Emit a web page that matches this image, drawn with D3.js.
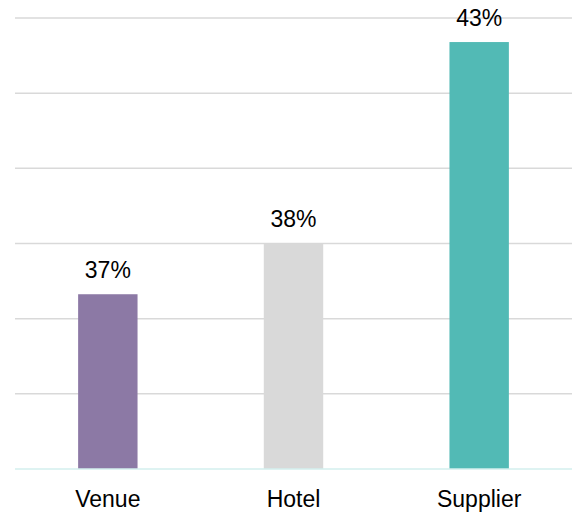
<!DOCTYPE html>
<html>
<head>
<meta charset="utf-8">
<script src="https://cdn.jsdelivr.net/npm/d3@7"></script>
<style>
  html, body { margin: 0; padding: 0; background: #fff; }
  svg { display: block; font-family: "Liberation Sans", Arial, sans-serif; }
</style>
</head>
<body>
<div id="chart"></div>
<script>
const categories = ["Venue", "Hotel", "Supplier"];
const values = [36.65, 37.99, 43.36];
const colors = ["#8c79a5", "#d9d9d9", "#52bab5"];
const yTicks = [32, 34, 36, 38, 40, 42, 44];

const width = 581, height = 514;
const margin = {top: 18, right: 9, bottom: 45, left: 15};
const innerWidth = width - margin.left - margin.right;
const innerHeight = height - margin.top - margin.bottom;

const svg = d3.select("#chart")
    .append("svg")
    .attr("width", width)
    .attr("height", height);

const chartGroup = svg.append("g")
    .attr("transform", `translate(${margin.left},${margin.top})`);

// Scales
const x = d3.scaleBand()
    .domain(categories)
    .range([0, 557])
    .paddingInner(0.68)
    .paddingOuter(0.34);

const y = d3.scaleLinear()
    .domain([32, 44])
    .range([innerHeight, 0]);

// Gridlines
chartGroup.selectAll("line.grid")
    .data(yTicks.slice(1))
    .join("line")
    .attr("class", "grid")
    .attr("x1", 0)
    .attr("x2", innerWidth)
    .attr("y1", d => y(d))
    .attr("y2", d => y(d))
    .attr("stroke", "#d9d9d9")
    .attr("stroke-width", 1.5);

// Bars
chartGroup.selectAll("rect.bar")
    .data(categories)
    .join("rect")
    .attr("class", "bar")
    .attr("x", d => x(d))
    .attr("y", (d, i) => y(values[i]))
    .attr("width", x.bandwidth())
    .attr("height", (d, i) => y(32) - y(values[i]))
    .attr("fill", (d, i) => colors[i]);

// Baseline
chartGroup.append("line")
    .attr("x1", 0)
    .attr("x2", innerWidth)
    .attr("y1", y(32))
    .attr("y2", y(32))
    .attr("stroke", "#d3efee")
    .attr("stroke-width", 1.5);

// Value labels
chartGroup.selectAll("text.value")
    .data(categories)
    .join("text")
    .attr("class", "value")
    .attr("x", d => x(d) + x.bandwidth() / 2)
    .attr("y", (d, i) => y(values[i]) - 16.5)
    .attr("text-anchor", "middle")
    .style("font-size", "23px")
    .style("fill", "#000")
    .text((d, i) => d3.format(".0f")(values[i]) + "%");

// Category labels
chartGroup.selectAll("text.cat")
    .data(categories)
    .join("text")
    .attr("class", "cat")
    .attr("x", d => x(d) + x.bandwidth() / 2)
    .attr("y", innerHeight + 38)
    .attr("text-anchor", "middle")
    .style("font-size", "23px")
    .style("fill", "#000")
    .text(d => d);
</script>
</body>
</html>
